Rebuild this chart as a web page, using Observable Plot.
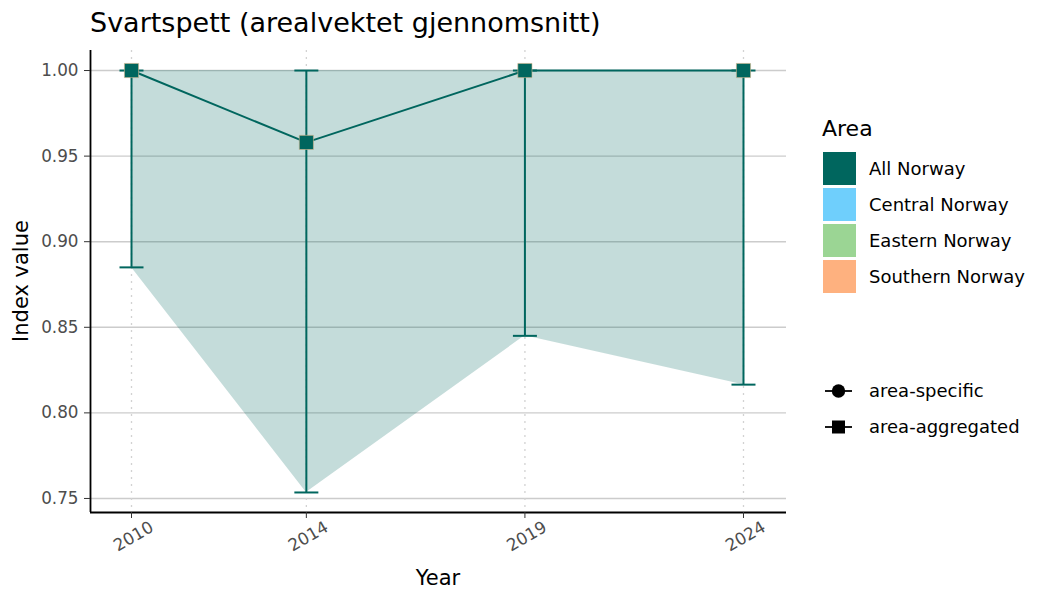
<!DOCTYPE html>
<html>
<head>
<meta charset="utf-8">
<script src="https://cdn.jsdelivr.net/npm/d3@7"></script>
<script src="https://cdn.jsdelivr.net/npm/@observablehq/plot@0.6"></script>
<style>
  body { margin: 0; background: white; }
  #wrap { position: relative; width: 1050px; height: 600px; font-family: "DejaVu Sans", sans-serif; }
  #wrap > svg { position: absolute; left: 0; top: 0; }
</style>
</head>
<body>
<div id="wrap"></div>
<script>
// ---- data ----
const years = [2010, 2014, 2019, 2024];
const indexValue = [1.00, 0.958, 1.00, 1.00];
const lowerCI = [0.885, 0.7535, 0.845, 0.8165];
const upperCI = [1.00, 1.00, 1.00, 1.00];
const yTicks = [0.75, 0.80, 0.85, 0.90, 0.95, 1.00];
const areaNames = ["All Norway", "Central Norway", "Eastern Norway", "Southern Norway"];
const areaColors = ["#00665e", "#6fcffc", "#9bd594", "#feb17f"];
const shapeNames = ["area-specific", "area-aggregated"];

const teal = areaColors[0];
const data = years.map((y, i) => ({year: y, value: indexValue[i], lower: lowerCI[i], upper: upperCI[i]}));

const xDomain = [2009.062, 2024.984];
const yDomain = [0.7418, 1.0117];

const capSymbol = {
  draw(ctx, size) { ctx.moveTo(-12, 0); ctx.lineTo(12, 0); }
};

const chart = Plot.plot({
  width: 1050, height: 600,
  marginLeft: 90, marginRight: 264, marginTop: 50, marginBottom: 88,
  style: {fontFamily: "DejaVu Sans", fontSize: "16.8px", color: "#4d4d4d", background: "transparent"},
  x: {domain: xDomain, label: null},
  y: {domain: yDomain, label: null},
  marks: [
    Plot.ruleY(yTicks, {stroke: "#cccccc", strokeWidth: 1.4}),
    Plot.ruleX(years, {stroke: "#d2d2d2", strokeWidth: 1.3, strokeDasharray: "2,5"}),
    Plot.areaY(data, {x: "year", y1: "lower", y2: "upper", fill: teal, fillOpacity: 0.23}),
    Plot.ruleX(data, {x: "year", y1: "lower", y2: "upper", stroke: teal, strokeWidth: 2}),
    Plot.dot(data, {x: "year", y: "lower", symbol: capSymbol, stroke: teal, strokeWidth: 2, r: 5}),
    Plot.dot(data, {x: "year", y: "upper", symbol: capSymbol, stroke: teal, strokeWidth: 2, r: 5}),
    Plot.line(data, {x: "year", y: "value", stroke: teal, strokeWidth: 2}),
    Plot.dot(data, {x: "year", y: "value", symbol: "square", r: 8, fill: teal, stroke: "#d9b88f", strokeWidth: 0.6}),
    Plot.ruleX([xDomain[0]], {stroke: "black", strokeWidth: 1.8}),
    Plot.ruleY([yDomain[0]], {stroke: "black", strokeWidth: 1.8}),
    Plot.axisY({ticks: yTicks, tickFormat: d3.format(".2f"), tickSize: 6, tickPadding: 6, stroke: "#333", label: null, fontSize: 16.8, fill: "#4d4d4d"}),
    Plot.axisX({ticks: years, tickFormat: () => "", tickSize: 6, stroke: "#333", label: null}),
    Plot.text(years, {x: d => d, text: d => String(d), frameAnchor: "bottom", dx: 2, dy: 24, rotate: -30,
      textAnchor: "middle", lineAnchor: "middle", fontSize: 16.8, fill: "#4d4d4d"})
  ]
});
document.getElementById("wrap").appendChild(chart);

// ---- title, axis titles and legend ----
const ov = d3.select("#wrap").append("svg").attr("width", 1050).attr("height", 600)
  .style("font-family", "'DejaVu Sans', sans-serif");
ov.append("text").attr("x", 90).attr("y", 32).attr("font-size", 27).attr("fill", "black")
  .text("Svartspett (arealvektet gjennomsnitt)");
ov.append("text").attr("transform", "translate(28,281) rotate(-90)").attr("text-anchor", "middle")
  .attr("font-size", 21).attr("fill", "black").text("Index value");
ov.append("text").attr("x", 438).attr("y", 585).attr("text-anchor", "middle")
  .attr("font-size", 21).attr("fill", "black").text("Year");
ov.append("text").attr("x", 822).attr("y", 136).attr("font-size", 22).attr("fill", "black").text("Area");
areaNames.forEach((n, i) => {
  const y0 = 152 + i * 36;
  ov.append("rect").attr("x", 823).attr("y", y0).attr("width", 33).attr("height", 33).attr("fill", areaColors[i]);
  ov.append("text").attr("x", 869).attr("y", y0 + 23).attr("font-size", 18).attr("fill", "black").text(n);
});
shapeNames.forEach((n, i) => {
  const yc = 391 + i * 36;
  ov.append("line").attr("x1", 825).attr("x2", 852).attr("y1", yc).attr("y2", yc).attr("stroke", "black").attr("stroke-width", 1.8);
  if (i === 0) ov.append("circle").attr("cx", 838.5).attr("cy", yc).attr("r", 6.7).attr("fill", "black");
  else ov.append("rect").attr("x", 832).attr("y", yc - 6.5).attr("width", 13).attr("height", 13).attr("fill", "black");
  ov.append("text").attr("x", 869).attr("y", yc + 6).attr("font-size", 18).attr("fill", "black").text(n);
});
</script>
</body>
</html>
